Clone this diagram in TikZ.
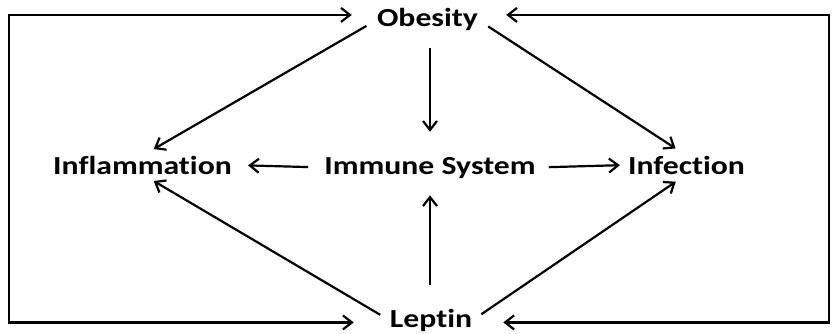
\documentclass[tikz,border=0pt]{standalone}
\usepackage{fontspec}
\setmainfont{Carlito}[Ligatures=NoCommon]
\usetikzlibrary{arrows.meta}

\begin{document}
\begin{tikzpicture}[x=1pt,y=-1pt,>={Straight Barb[length=9pt,width=14pt]}]
\tikzstyle{factor}=[inner sep=0pt,font=\fontsize{26}{30}\selectfont\bfseries,xscale=1.22,anchor=base]
\tikzstyle{link}=[->,line width=2.2pt,shorten <=12pt,shorten >=13pt]
\tikzstyle{loop}=[<->,line width=2.2pt]
\useasboundingbox (0,0) rectangle (837,334);
\node[factor] (ob) at (427.5,27) {Obesity};
\node[factor] (infl) at (142.5,174) {Inflammation};
\node[factor] (imm) at (430,174) {Immune System};
\node[factor] (infec) at (686.5,174) {Infection};
\node[factor] (lep) at (431,327.5) {Leptin};
\coordinate (lc) at (9,170);
\coordinate (rc) at (829,170);
% outer loops
\draw[loop] ([shift={(-25pt,5pt)}]ob.west) -| (lc) |- ([shift={(-36pt,-2pt)}]lep.west);
\draw[loop] ([shift={(28pt,5pt)}]ob.east) -| (rc) |- ([shift={(31pt,-2pt)}]lep.east);
% inner arrows
\draw[link] (ob.west) -- (infl.north);
\draw[link] (ob.east) -- (infec.north);
\draw[link,shorten <=17pt,shorten >=25pt] (imm.north |- ob.south) -- (imm.north);
\draw[link,shorten <=24pt,shorten >=17pt] (imm.south |- lep.north) -- (imm.south);
\draw[link,shorten <=16pt,shorten >=16pt] (imm.west) -- (infl.east);
\draw[link,shorten <=13pt,shorten >=8pt] (imm.east) -- (infec.west);
\draw[link,shorten <=11pt] (lep.west) -- (infl.south);
\draw[link,shorten <=11pt] (lep.east) -- (infec.south);
\end{tikzpicture}
\end{document}
